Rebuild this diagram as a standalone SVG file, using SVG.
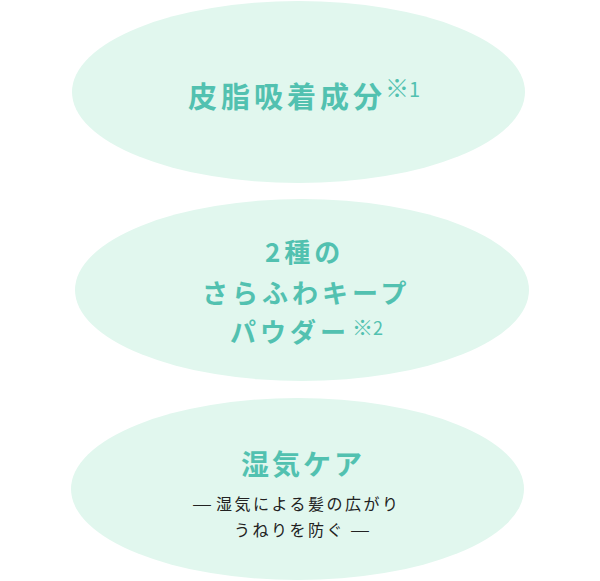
<svg xmlns="http://www.w3.org/2000/svg" width="600" height="581" viewBox="0 0 600 581">
<style>
.bg{fill:#e1f7ee}
.t{font-family:"Noto Sans CJK JP","Noto Sans",sans-serif;font-weight:700;fill:#52c1b0}
.t1{font-size:29px;letter-spacing:4px}
.t3{font-size:28px;letter-spacing:3px}
.t2{font-size:26px;letter-spacing:4px}
.sup{font-family:"Noto Sans CJK JP","Noto Sans",sans-serif;font-weight:400;fill:#52c1b0}
.s1{font-size:20px}
.s2{font-size:18px}
.sub{font-family:"Noto Sans CJK JP","Noto Sans",sans-serif;font-weight:400;font-size:16px;letter-spacing:2.5px;fill:#222}
</style>
<rect width="600" height="581" fill="#fff"/>
<g id="node1">
<ellipse class="bg" cx="298.5" cy="92" rx="226.5" ry="91"/>
<text class="t t1" x="188" y="108">皮脂吸着成分</text>
<text class="sup s1" x="385" y="97"><tspan font-size="24">※</tspan>1</text>
</g>
<g id="node2">
<ellipse class="bg" cx="302" cy="290" rx="227" ry="91"/>
<text class="t t2" x="265" y="262">2種の</text>
<text class="t t2" x="202" y="303">さらふわキープ</text>
<text class="t t2" x="230" y="342">パウダー</text>
<text class="sup s2" x="352" y="335"><tspan font-size="21">※</tspan>2</text>
</g>
<g id="node3">
<ellipse class="bg" cx="297.5" cy="489" rx="226.5" ry="91"/>
<text class="t t3" x="241" y="475">湿気ケア</text>
<text class="sub" transform="translate(192,510) scale(1.4,1)">—</text>
<text class="sub" x="216" y="510">湿気による髪の広がり</text>
<text class="sub" x="234" y="536">うねりを防ぐ</text>
<text class="sub" transform="translate(350,536) scale(1.4,1)">—</text>
</g>
<g id="connectors"></g>
</svg>
